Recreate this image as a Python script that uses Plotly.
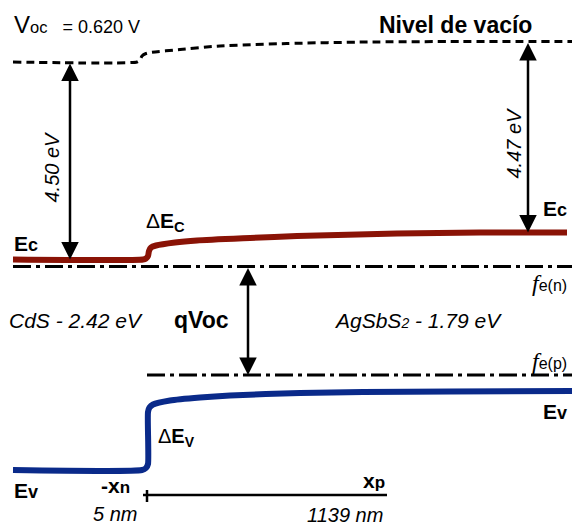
import plotly.graph_objects as go

# ---- schematic band-diagram data (x: position column, y: energy row, drawn top-down) ----
vac_x = [13, 137, 140, 142, 146, 150, 180, 220, 287, 367, 460, 572]
vac_y = [62, 62, 60, 56, 53.5, 52.5, 49.5, 46, 43.5, 42, 41.5, 41.5]

ec_x = [13, 143, 146, 148, 149, 151, 156, 175, 197, 250, 297, 397, 480, 567]
ec_y = [259.5, 259.5, 258.5, 256, 251, 247.5, 245.5, 242.5, 240.5, 238, 236, 233.5, 232.5, 232.5]

ev_x = [13, 142, 146, 148, 148, 149.5, 153, 170, 200, 230, 300, 363, 450, 572]
ev_y = [470, 470, 468, 464, 412, 407.5, 404.5, 400.5, 397.5, 395.5, 393, 392, 391.5, 391]

fen_x = [13, 572]
fen_y = [266.5, 266.5]
fep_x = [147, 572]
fep_y = [375, 375]

axis_x = [143, 387]
axis_y = [495, 495]
tick_x = [147, 147]
tick_y = [490, 502]

labels_energy = ["4.50 eV", "4.47 eV"]
voc_text = "0.620 V"
gap_cds = "2.42 eV"
gap_ags = "1.79 eV"
pos_labels = ["5 nm", "1139 nm"]

EC_COLOR = "#8a1306"
EV_COLOR = "#0a2a8a"
FONT = "Liberation Sans, Arial, sans-serif"

fig = go.Figure()

def line(x, y, color, width, dash="solid", shape="linear"):
    fig.add_trace(go.Scatter(x=x, y=y, mode="lines", hoverinfo="skip",
                             line=dict(color=color, width=width, dash=dash, shape=shape,
                                       smoothing=0.6)))

line(vac_x, vac_y, "black", 3, "8px,5px", "spline")
line(fen_x, fen_y, "black", 3, "18px,5px,4px,5px")
line(fep_x, fep_y, "black", 3, "18px,5px,4px,5px")
line(ec_x, ec_y, EC_COLOR, 6, shape="spline")
line(ev_x, ev_y, EV_COLOR, 6, shape="spline")
line(axis_x, axis_y, "black", 2.5)
line(tick_x, tick_y, "black", 2.5)

def arrow(x, y0, y1):
    fig.add_annotation(x=x, y=y1, ax=x, ay=y0, xref="x", yref="y", axref="x", ayref="y",
                       text="", showarrow=True, arrowhead=2, startarrowhead=2,
                       arrowside="end+start", arrowwidth=2.5, arrowsize=1.4,
                       startarrowsize=1.4, arrowcolor="black", standoff=0, startstandoff=0)

arrow(70, vac_y[0], ec_y[0])
arrow(528, vac_y[-1], ec_y[-1])
arrow(248, fen_y[0], fep_y[0])

def label(text, x, y, size, xanchor="left", angle=0):
    fig.add_annotation(x=x, y=y, xref="x", yref="y", text=text, showarrow=False,
                       xanchor=xanchor, yanchor="middle", textangle=angle, borderpad=0,
                       font=dict(family=FONT, size=size, color="black"))

label("<span style='font-size:24px'>V</span><span style='font-size:16.5px'>oc</span>&nbsp;&nbsp;&nbsp;= "
      + voc_text, 13, 24, 18)
label("<b>Nivel de vacío</b>", 378, 25, 23)
label("<i>" + labels_energy[0] + "</i>", 51.5, 167, 20, "center", -90)
label("<i>" + labels_energy[1] + "</i>", 513.5, 143, 20, "center", -90)
label("<b>E<span style='font-size:18px'>c</span></b>", 13, 243, 21)
label("<b>E<span style='font-size:18px'>c</span></b>", 542, 208, 21)
label("Δ<b>E<sub>C</sub></b>", 145, 222, 21)
label("<i>CdS - " + gap_cds + "</i>", 76, 320, 21, "center")
label("<b>qVoc</b>", 173, 320, 23)
label("<i>AgSbS<span style='font-size:14px'>2</span> - " + gap_ags + "</i>", 503, 320, 21, "right")
label("<span style='font-family:Liberation Serif;font-size:24px'><i>f</i></span>e(n)",
      531, 283, 16)
label("<span style='font-family:Liberation Serif;font-size:24px'><i>f</i></span>e(p)",
      531, 361, 16)
label("<b>E<span style='font-size:18px'>v</span></b>", 542, 411, 21)
label("Δ<b>E<sub>V</sub></b>", 157, 437, 20)
label("<b>E<span style='font-size:18px'>v</span></b>", 13, 490, 21)
label("<b>-x<span style='font-size:17px'>n</span></b>", 100, 485, 21)
label("<b>x<span style='font-size:17px'>p</span></b>", 386, 480, 21, "right")
label("<i>" + pos_labels[0] + "</i>", 138, 514, 20, "right")
label("<i>" + pos_labels[1] + "</i>", 384, 515, 20, "right")

fig.update_layout(width=572, height=527, margin=dict(l=0, r=0, t=0, b=0),
                  paper_bgcolor="white", plot_bgcolor="white", showlegend=False,
                  xaxis=dict(range=[0, 572], visible=False, fixedrange=True),
                  yaxis=dict(range=[527, 0], visible=False, fixedrange=True))

fig.write_html("out.html", post_script="document.body.style.margin='0';",
               config={"displayModeBar": False})
